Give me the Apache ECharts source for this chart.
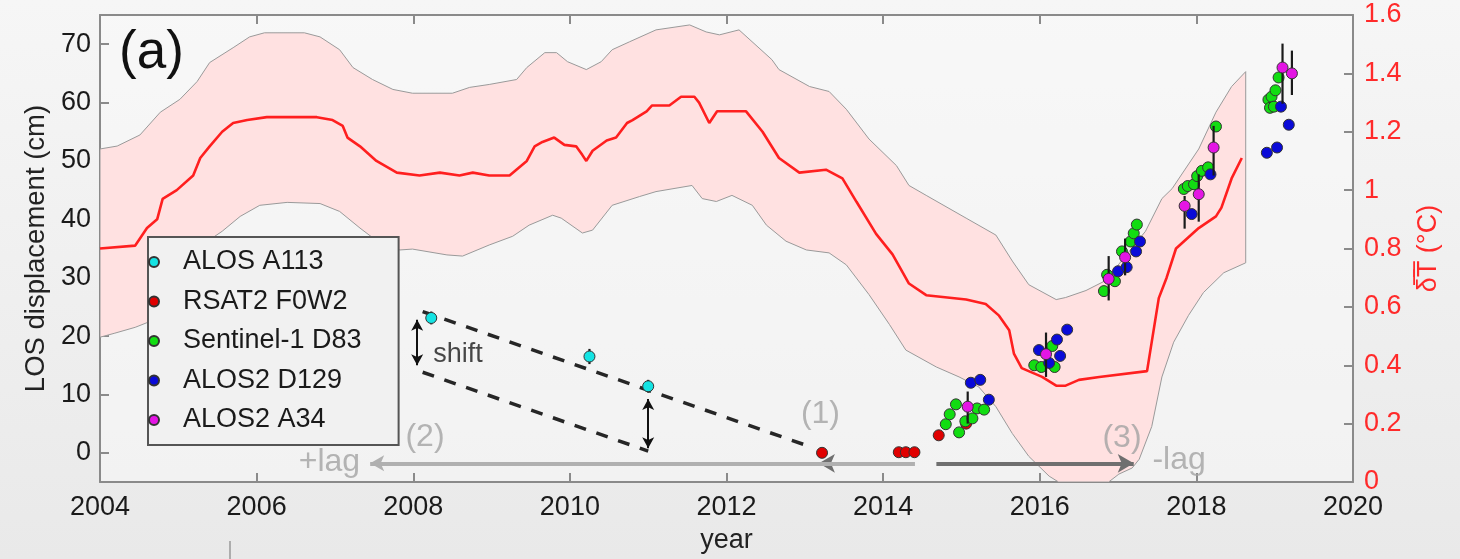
<!DOCTYPE html>
<html><head><meta charset="utf-8">
<script src="https://cdn.jsdelivr.net/npm/echarts@6/dist/echarts.min.js"></script>
<style>html,body{margin:0;padding:0;background:#efefef}#c{width:1460px;height:559px}</style>
</head><body><div id="c"></div>
<script>
// ---------- data (year, value) ----------
const LEFT_TICKS = [0, 10, 20, 30, 40, 50, 60, 70];
// mean temperature anomaly (deg C, right axis)
const RED_LINE = [[2004.00,0.80],[2004.45,0.81],[2004.60,0.87],[2004.73,0.90],[2004.80,0.97],[2004.98,1.00],[2005.19,1.05],[2005.28,1.11],[2005.40,1.15],[2005.56,1.20],[2005.70,1.23],[2005.88,1.24],[2006.13,1.25],[2006.77,1.25],[2006.97,1.24],[2007.10,1.22],[2007.16,1.18],[2007.32,1.15],[2007.53,1.10],[2007.79,1.06],[2008.08,1.05],[2008.34,1.06],[2008.59,1.05],[2008.76,1.06],[2008.97,1.05],[2009.23,1.05],[2009.45,1.10],[2009.55,1.15],[2009.65,1.165],[2009.80,1.18],[2009.93,1.155],[2010.08,1.15],[2010.16,1.12],[2010.21,1.10],[2010.29,1.135],[2010.47,1.17],[2010.59,1.18],[2010.73,1.23],[2010.80,1.24],[2010.98,1.27],[2011.05,1.29],[2011.27,1.29],[2011.42,1.32],[2011.59,1.32],[2011.65,1.30],[2011.78,1.23],[2011.88,1.27],[2012.04,1.27],[2012.25,1.27],[2012.46,1.20],[2012.67,1.11],[2012.93,1.06],[2013.27,1.07],[2013.48,1.04],[2013.66,0.96],[2013.91,0.85],[2014.12,0.78],[2014.33,0.68],[2014.55,0.64],[2015.06,0.625],[2015.31,0.61],[2015.48,0.57],[2015.61,0.52],[2015.67,0.44],[2015.77,0.39],[2016.03,0.36],[2016.21,0.33],[2016.33,0.33],[2016.50,0.35],[2016.76,0.36],[2017.37,0.38],[2017.52,0.63],[2017.62,0.70],[2017.74,0.80],[2018.03,0.87],[2018.25,0.91],[2018.32,0.94],[2018.45,1.04],[2018.58,1.11]];
const BAND_UPPER = [[2004.00,1.141],[2004.22,1.151],[2004.51,1.189],[2004.77,1.267],[2005.02,1.311],[2005.24,1.372],[2005.40,1.437],[2005.70,1.488],[2005.91,1.525],[2006.10,1.539],[2006.61,1.539],[2006.81,1.525],[2007.06,1.481],[2007.23,1.420],[2007.48,1.379],[2007.74,1.345],[2007.99,1.332],[2008.50,1.332],[2008.72,1.352],[2008.97,1.362],[2009.32,1.379],[2009.45,1.420],[2009.68,1.471],[2009.83,1.471],[2009.97,1.440],[2010.21,1.413],[2010.40,1.440],[2010.54,1.481],[2010.76,1.508],[2011.10,1.549],[2011.53,1.566],[2011.74,1.542],[2011.91,1.532],[2012.16,1.549],[2012.58,1.447],[2012.67,1.413],[2013.06,1.355],[2013.31,1.338],[2013.53,1.277],[2013.82,1.175],[2014.17,1.084],[2014.33,1.016],[2014.55,0.982],[2015.06,0.904],[2015.44,0.846],[2015.65,0.757],[2015.86,0.676],[2016.21,0.625],[2016.33,0.632],[2016.59,0.656],[2016.84,0.690],[2017.35,0.859],[2017.56,0.971],[2017.69,1.005],[2018.03,1.141],[2018.25,1.267],[2018.45,1.355],[2018.63,1.406]];
const BAND_LOWER = [[2004.00,0.496],[2004.19,0.510],[2004.45,0.530],[2004.61,0.547],[2004.83,0.632],[2005.08,0.740],[2005.34,0.819],[2005.56,0.859],[2005.79,0.910],[2006.04,0.948],[2006.39,0.958],[2006.81,0.954],[2007.06,0.927],[2007.32,0.870],[2007.57,0.819],[2007.83,0.795],[2007.99,0.798],[2008.43,0.778],[2008.63,0.774],[2008.97,0.812],[2009.27,0.842],[2009.48,0.880],[2009.78,0.914],[2009.89,0.904],[2010.16,0.853],[2010.29,0.863],[2010.54,0.948],[2010.89,0.978],[2011.10,0.995],[2011.56,1.016],[2011.69,0.971],[2011.87,0.961],[2012.07,0.982],[2012.33,0.948],[2012.51,0.880],[2012.76,0.825],[2013.02,0.795],[2013.31,0.785],[2013.53,0.744],[2013.82,0.642],[2014.08,0.540],[2014.29,0.452],[2014.68,0.394],[2014.97,0.360],[2015.22,0.326],[2015.44,0.258],[2015.65,0.166],[2015.86,0.088],[2016.12,0.020],[2016.24,0.0],[2016.88,0.0],[2017.01,0.027],[2017.18,0.048],[2017.27,0.078],[2017.43,0.190],[2017.56,0.360],[2017.71,0.479],[2017.90,0.571],[2018.09,0.649],[2018.35,0.717],[2018.63,0.751]];
// LOS displacement (cm, left axis)
const ALOS_A113 = [[2008.23,23.1],[2010.25,16.5],[2011.00,11.4]];
const ALOS_A113_ERR = [[2008.23,23.1,22.0,24.2],[2010.25,16.5,15.2,17.8],[2011.00,11.4,10.3,12.5]];
const RSAT2_F0W2 = [[2013.22,0.0],[2014.20,0.1],[2014.29,0.1],[2014.40,0.1],[2014.71,3.0],[2015.06,5.0]];
const SENTINEL1_D83 = [[2014.80,4.9],[2014.85,6.6],[2014.93,8.3],[2014.97,3.5],[2015.05,5.4],[2015.14,5.9],[2015.20,7.6],[2015.29,7.4],
  [2015.93,15.0],[2016.02,14.7],[2016.16,18.3],[2016.19,14.7],
  [2016.82,27.7],[2016.86,30.5],[2016.96,29.4],[2017.05,34.5],[2017.16,36.2],[2017.20,37.6],[2017.24,39.1],
  [2017.84,45.2],[2017.89,45.7],[2017.97,46.0],[2018.01,47.4],[2018.07,48.3],[2018.15,48.9],[2018.25,55.9],
  [2018.92,60.5],[2018.96,61.0],[2019.01,62.1],[2019.05,64.3],[2018.94,59.1],[2018.99,59.3]];
const ALOS2_D129 = [[2015.12,12.0],[2015.24,12.5],[2015.35,9.1],
  [2015.99,17.6],[2016.12,15.4],[2016.22,19.4],[2016.26,16.6],[2016.35,21.1],
  [2017.00,31.1],[2017.11,31.8],[2017.23,34.5],[2017.28,36.2],
  [2017.94,40.9],[2018.18,47.7],
  [2018.90,51.4],[2019.03,52.3],[2019.08,59.3],[2019.18,56.2]];
// [year, value, low, high]
const ALOS2_A34 = [[2015.08,7.9,5.0,10.5],[2016.08,16.9,13.0,20.6],[2016.88,29.8,26.1,33.7],[2017.09,33.5,30.4,36.7],
  [2017.85,42.3,38.4,44.0],[2018.03,44.3,39.6,47.7],[2018.22,52.3,47.5,56.0],[2019.10,66.0,59.8,70.1],[2019.22,65.0,61.3,68.9]];
// annotations (cm)
const DASH_UPPER = [[2008.12,24.2],[2013.10,0.9]];
const DASH_LOWER = [[2008.12,13.8],[2011.00,0.3]];
const SHIFT_ARROWS = [[2008.05,15.0,22.8],[2011.00,0.8,9.2]];
const LAG_Y = -1.8;
const LAG_ARROWS = [[2014.40,2013.18,'dark'],[2014.40,2007.45,'light'],[2014.68,2017.20,'dark']];
const TEXTS = [[2013.20,6.6,'(1)','grey'],[2008.15,2.6,'(2)','grey'],[2017.05,2.5,'(3)','grey'],
  [2006.93,-1.6,'+lag','grey'],[2017.78,-1.2,'-lag','grey'],[2008.57,16.8,'shift','black']];

const FONT = 'Liberation Sans, Arial, Helvetica, sans-serif';
const chart = echarts.init(document.getElementById('c'), null, {renderer:'canvas'});

function sc(name, data, color){
  return {name, type:'scatter', data, yAxisIndex:0, symbolSize:11,
    itemStyle:{color, borderColor:'#333', borderWidth:1, opacity:1}, z:5};
}
function errSeries(data, z){
  return {type:'custom', yAxisIndex:0, z, data, encode:{x:0,y:[2,3]},
    renderItem:function(params, api){
      const a = api.coord([api.value(0), api.value(2)]);
      const b = api.coord([api.value(0), api.value(3)]);
      return {type:'line', shape:{x1:a[0],y1:a[1],x2:b[0],y2:b[1]}, style:{stroke:'#1a1a1a', lineWidth:2.2}};
    }};
}

const markLines = [];
SHIFT_ARROWS.forEach(s=>{
  markLines.push([{coord:[s[0],s[1]], symbol:'arrow', symbolSize:[9,11]},
                  {coord:[s[0],s[2]], symbol:'arrow', symbolSize:[9,11],
                   lineStyle:{color:'#111', width:2, type:'solid'}}]);
});
LAG_ARROWS.forEach(a=>{
  const dark = a[2]==='dark';
  markLines.push([{coord:[a[0],LAG_Y], symbol:'none'},
                  {coord:[a[1],LAG_Y], symbol:'arrow', symbolSize:dark?[14,16]:[12,14],
                   lineStyle:{color: dark?'#6f6f6f':'#b0b0b0', width:4, type:'solid'}}]);
});

const AXIS_COLOR = '#8a8a8a';
const option = {
  animation:false,
  backgroundColor: new echarts.graphic.LinearGradient(0,0,0,1,[{offset:0,color:'#f6f6f6'},{offset:1,color:'#e9e9e9'}]),
  textStyle:{fontFamily:FONT},
  title:{text:'(a)', left:114, top:22, textStyle:{fontSize:53, fontWeight:'normal', color:'#111', fontFamily:FONT}},
  grid:{left:100, right:107, top:15, bottom:73, show:true, backgroundColor:'rgba(250,250,250,0.5)', borderWidth:0},
  legend:{
    data:['ALOS A113','RSAT2 F0W2','Sentinel-1 D83','ALOS2 D129','ALOS2 A34'],
    orient:'vertical', left:148, top:237, padding:[10,37,10,0],
    itemWidth:30, itemHeight:10, itemGap:9.5, icon:'circle', selectedMode:false,
    backgroundColor:'#f1f1f1', borderColor:'#555', borderWidth:2,
    textStyle:{fontSize:27, color:'#1a1a1a', fontFamily:FONT, lineHeight:30, padding:[0,0,0,9]}
  },
  xAxis:[
    {type:'value', min:2004, max:2020, interval:2, position:'bottom',
     name:'year', nameLocation:'middle', nameGap:45,
     nameTextStyle:{fontSize:27, color:'#222', fontFamily:FONT},
     axisLine:{onZero:false, lineStyle:{color:AXIS_COLOR, width:2}},
     axisTick:{inside:true, length:9, lineStyle:{color:AXIS_COLOR, width:2}},
     axisLabel:{fontSize:27, color:'#1a1a1a', margin:12, fontFamily:FONT, formatter:v=>String(v)},
     splitLine:{show:false}},
    {type:'value', min:2004, max:2020, interval:2, position:'top',
     axisLine:{onZero:false, lineStyle:{color:AXIS_COLOR, width:2}},
     axisTick:{inside:true, length:9, lineStyle:{color:AXIS_COLOR, width:2}},
     axisLabel:{show:false}, splitLine:{show:false}}
  ],
  yAxis:[
    {type:'value', min:-5, max:75, position:'left',
     name:'LOS displacement (cm)', nameLocation:'middle', nameGap:50, nameRotate:90,
     nameTextStyle:{fontSize:27.5, color:'#222', fontFamily:FONT},
     axisLine:{show:true, onZero:false, lineStyle:{color:AXIS_COLOR, width:2}},
     axisTick:{show:true, inside:true, length:9, customValues:LEFT_TICKS, lineStyle:{color:AXIS_COLOR, width:2}},
     axisLabel:{fontSize:27, color:'#1a1a1a', margin:9, customValues:LEFT_TICKS, fontFamily:FONT},
     splitLine:{show:false}},
    {type:'value', min:0, max:1.6, interval:0.2, position:'right',
     name:'δ\u0305T\u0305 (°C)', nameLocation:'middle', nameGap:62, nameRotate:90,
     nameTextStyle:{fontSize:27, color:'#ff2a2a', fontFamily:FONT},
     axisLine:{show:true, onZero:false, lineStyle:{color:AXIS_COLOR, width:2}},
     axisTick:{show:true, inside:true, length:9, lineStyle:{color:AXIS_COLOR, width:2}},
     axisLabel:{fontSize:27, color:'#ff2a2a', margin:11, fontFamily:FONT,
       formatter:v=>String(parseFloat(v.toFixed(2)))},
     splitLine:{show:false}}
  ],
  graphic:[{type:'line', shape:{x1:230,y1:541,x2:230,y2:559}, style:{stroke:'#999', lineWidth:1.5}}],
  series:[
    {type:'custom', yAxisIndex:1, z:1, silent:true, data:[[2004,0]], clip:true,
     renderItem:function(params, api){
       const pts = BAND_UPPER.map(p=>api.coord(p)).concat(BAND_LOWER.slice().reverse().map(p=>api.coord(p)));
       return {type:'polygon', shape:{points:pts}, style:{fill:'#ffe1e1', stroke:'#9a9a9a', lineWidth:1}};
     }},
    {type:'line', yAxisIndex:1, z:2, data:RED_LINE, showSymbol:false, silent:true,
     lineStyle:{color:'#ff1f1f', width:2.6}},
    {type:'line', yAxisIndex:0, z:3, data:DASH_UPPER, showSymbol:false, silent:true,
     lineStyle:{color:'#262626', width:3.5, type:[12,11]},
     markLine:{silent:true, animation:false, label:{show:false}, emphasis:{disabled:true},
       lineStyle:{type:'solid'}, data:markLines}},
    {type:'line', yAxisIndex:0, z:3, data:DASH_LOWER, showSymbol:false, silent:true,
     lineStyle:{color:'#262626', width:3.5, type:[12,11]}},
    errSeries(ALOS_A113_ERR, 4),
    sc('ALOS A113', ALOS_A113, '#14e3e3'),
    sc('RSAT2 F0W2', RSAT2_F0W2, '#e00000'),
    sc('Sentinel-1 D83', SENTINEL1_D83, '#12dd12'),
    sc('ALOS2 D129', ALOS2_D129, '#0a0ad8'),
    errSeries(ALOS2_A34, 6),
    Object.assign(sc('ALOS2 A34', ALOS2_A34.map(d=>[d[0],d[1]]), '#e415e4'), {z:7}),
    {type:'scatter', yAxisIndex:0, z:8, silent:true, symbolSize:0,
     data:TEXTS.map(t=>({value:[t[0],t[1]], name:t[2],
       label:{show:true, position:'inside', formatter:t[2],
         fontSize: t[3]==='grey'?32:27, color: t[3]==='grey'?'#a3a3a3':'#1a1a1a', fontFamily:FONT}}))}
  ]
};
chart.setOption(option);
</script></body></html>
